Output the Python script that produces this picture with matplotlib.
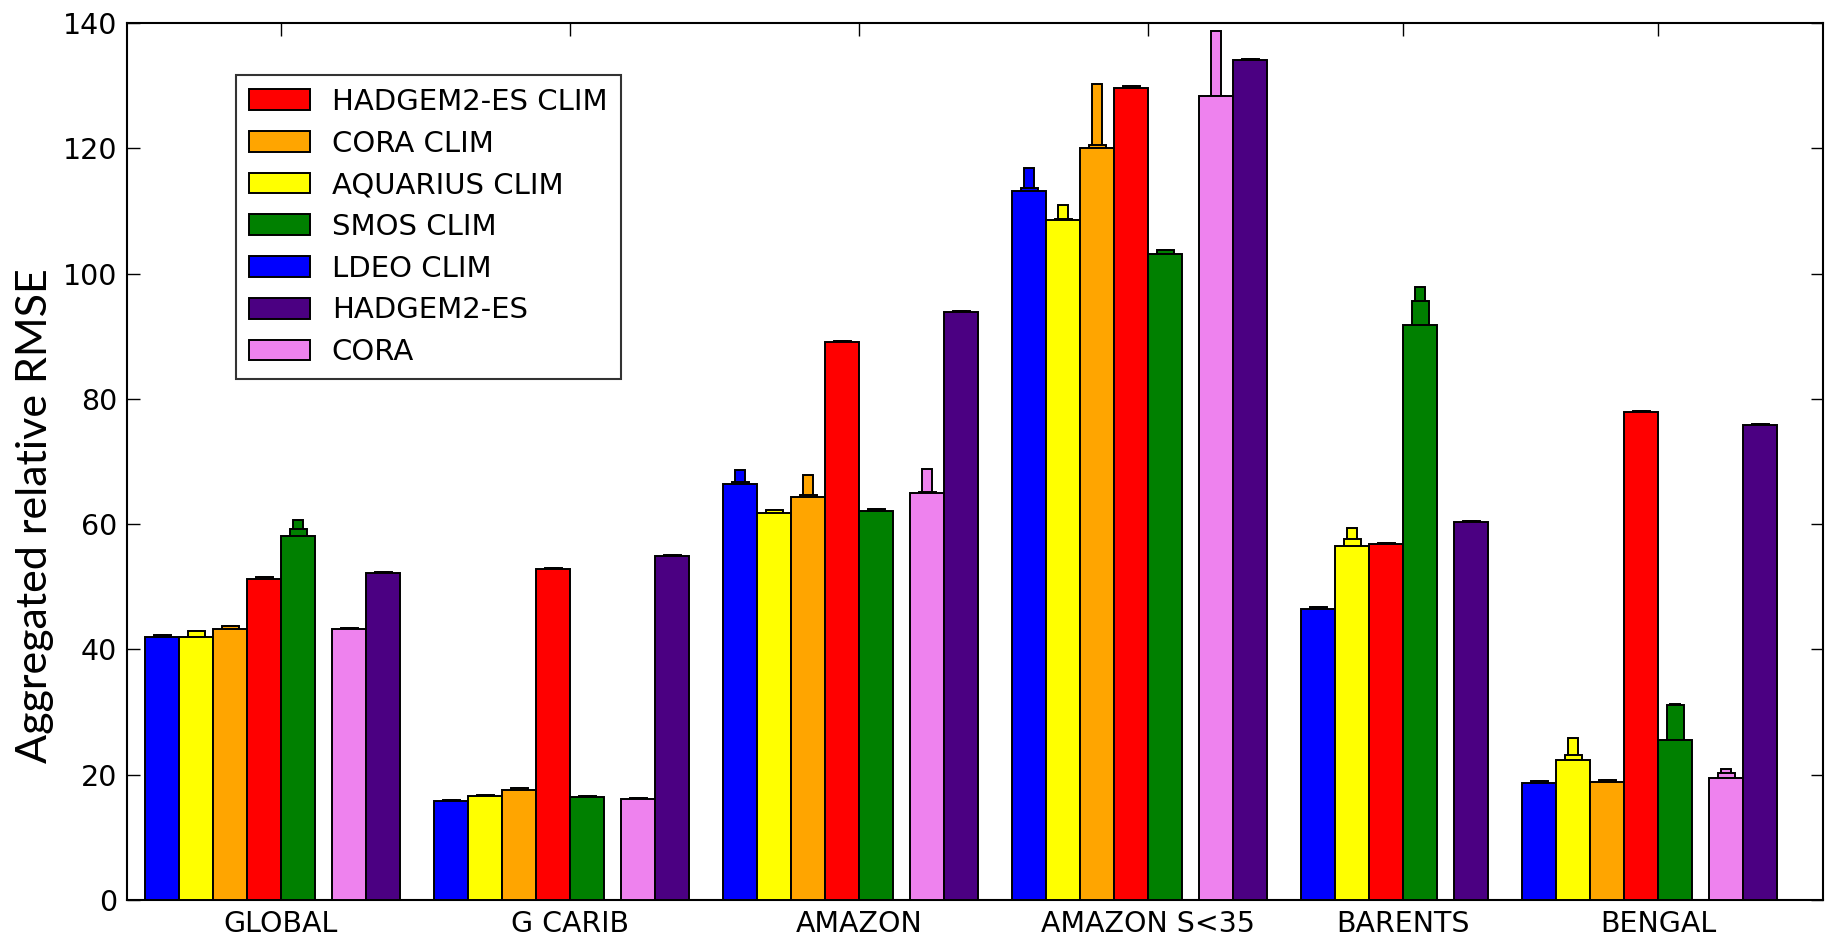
import numpy as np
import matplotlib
matplotlib.use("Agg")
import matplotlib.pyplot as plt
from matplotlib.patches import Patch

regions = ["GLOBAL", "G CARIB", "AMAZON", "AMAZON S<35", "BARENTS", "BENGAL"]

# series in drawing order within each group; None = missing
series_names = ["LDEO CLIM", "AQUARIUS CLIM", "CORA CLIM", "HADGEM2-ES CLIM",
                "SMOS CLIM", "CORA", "HADGEM2-ES"]
series_colors = ["#0000ff", "#ffff00", "#ffa500", "#ff0000",
                 "#008000", "#ee82ee", "#4b0082"]
clim_flags = [True, True, True, True, True, False, False]

ldeo_val = [42.0, 15.8, 66.4, 113.2, 46.4, 18.6]
ldeo_mid = [42.3, 16.0, 66.8, 113.7, 46.7, 19.0]
ldeo_hi = [42.3, 16.0, 68.6, 116.9, 46.7, 19.0]

aquarius_val = [42.0, 16.6, 61.8, 108.5, 56.5, 22.3]
aquarius_mid = [42.9, 16.8, 62.3, 108.7, 57.7, 23.1]
aquarius_hi = [42.9, 16.8, 62.3, 111.0, 59.4, 25.9]

coraclim_val = [43.2, 17.5, 64.4, 120.1, None, 18.8]
coraclim_mid = [43.8, 17.9, 64.6, 120.5, None, 19.2]
coraclim_hi = [43.8, 17.9, 67.9, 130.3, None, 19.2]

hadclim_val = [51.3, 52.8, 89.0, 129.7, 56.8, 77.9]
hadclim_mid = [51.5, 53.0, 89.2, 129.9, 57.0, 78.1]
hadclim_hi = [51.5, 53.0, 89.2, 129.9, 57.0, 78.1]

smos_val = [58.1, 16.4, 62.1, 103.2, 91.8, 25.5]
smos_mid = [59.2, 16.6, 62.4, 103.8, 95.6, 31.1]
smos_hi = [60.6, 16.6, 62.4, 103.8, 97.9, 31.3]

cora_val = [43.2, 16.1, 65.0, 128.3, None, 19.4]
cora_mid = [43.5, 16.3, 65.2, 128.4, None, 20.3]
cora_hi = [43.5, 16.3, 68.8, 138.7, None, 20.9]

had_val = [52.2, 54.9, 93.9, 134.1, 60.3, 75.8]
had_mid = [52.4, 55.1, 94.1, 134.3, 60.5, 76.0]
had_hi = [52.4, 55.1, 94.1, 134.3, 60.5, 76.0]

vals = [ldeo_val, aquarius_val, coraclim_val, hadclim_val, smos_val, cora_val, had_val]
mids = [ldeo_mid, aquarius_mid, coraclim_mid, hadclim_mid, smos_mid, cora_mid, had_mid]
his = [ldeo_hi, aquarius_hi, coraclim_hi, hadclim_hi, smos_hi, cora_hi, had_hi]

legend_order = ["HADGEM2-ES CLIM", "CORA CLIM", "AQUARIUS CLIM", "SMOS CLIM",
                "LDEO CLIM", "HADGEM2-ES", "CORA"]

yticks = [0, 20, 40, 60, 80, 100, 120, 140]

W = 1.0
fig = plt.figure(figsize=(18.31, 9.41), dpi=100)
ax = fig.add_axes([127/1831, 41/941, 1696/1831, 877/941])

pos = 0.0
tick_pos = []
for g in range(len(regions)):
    start = pos
    n = 0
    prev_clim = True
    for s in range(len(series_names)):
        v = vals[s][g]
        if v is None:
            continue
        if prev_clim and not clim_flags[s]:
            pos += 0.5 * W
        prev_clim = clim_flags[s]
        c = pos + W / 2
        ax.bar(c, his[s][g], width=0.3 * W, color=series_colors[s],
               edgecolor="black", linewidth=1.4, zorder=1)
        ax.bar(c, mids[s][g], width=0.5 * W, color=series_colors[s],
               edgecolor="black", linewidth=1.4, zorder=2)
        ax.bar(c, v, width=W, color=series_colors[s],
               edgecolor="black", linewidth=1.4, zorder=3)
        pos += W
        n += 1
    tick_pos.append(start + (n + 1) / 2 * W)
    pos += W

ax.set_xlim(-0.53, pos - W + 1.35)
ax.set_ylim(0, 140)
ax.set_yticks(yticks)
ax.set_xticks(tick_pos)
ax.set_xticklabels(regions)
ax.tick_params(direction="in", length=9, width=1.0, top=True, right=True,
               labelsize=20.5, pad=7, colors="black")
ax.tick_params(axis="x", pad=7)
for sp in ax.spines.values():
    sp.set_linewidth(1.5)

handles = []
for name in legend_order:
    i = series_names.index(name)
    handles.append(Patch(facecolor=series_colors[i], edgecolor="black",
                         linewidth=1.4, label=name))
leg = ax.legend(handles=handles, loc="upper left", bbox_to_anchor=(0.064, 0.941),
                fontsize=21, frameon=True, fancybox=False, borderaxespad=0,
                handlelength=2.1, handleheight=0.72, handletextpad=0.75,
                labelspacing=0.47, borderpad=0.45)
leg.get_frame().set_edgecolor("black")
leg.get_frame().set_linewidth(1.5)
leg.set_zorder(10)

fig.text(35/1831, 1 - 516/941, "Aggregated relative RMSE", rotation=90,
         ha="center", va="center", fontsize=31, family=["Lato", "DejaVu Sans"])

fig.savefig("out.png", dpi=100, facecolor="white")
